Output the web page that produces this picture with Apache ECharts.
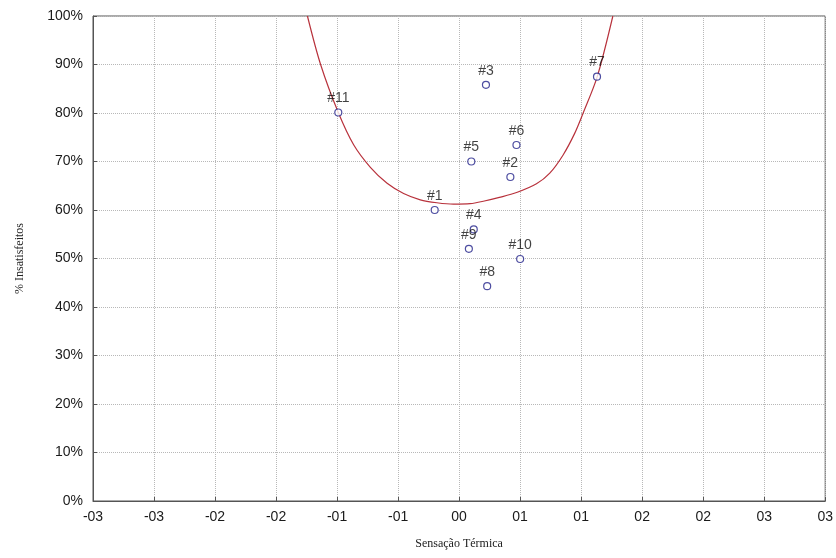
<!DOCTYPE html>
<html>
<head>
<meta charset="utf-8">
<script src="https://cdn.jsdelivr.net/npm/echarts@6/dist/echarts.min.js"></script>
<style>html,body{margin:0;padding:0;background:#fff;}#c{width:836px;height:558px;}</style>
</head>
<body>
<div id="c"></div>
<script>
// Data
var pointNames = ['#1','#2','#3','#4','#5','#6','#7','#8','#9','#10','#11'];
var pointX = [-0.20, 0.42, 0.22, 0.12, 0.10, 0.47, 1.13, 0.23, 0.08, 0.50, -0.99];
var pointY = [60.0, 66.8, 85.8, 56.0, 70.0, 73.4, 87.5, 44.3, 52.0, 49.9, 80.1];

// Fitted curve, points
var curveX = [-1.243, -1.135, -0.990, -0.863, -0.727, -0.590, -0.455, -0.318, -0.182, -0.047, 0.090, 0.198, 0.330, 0.471, 0.634, 0.743, 0.851, 0.947, 1.015, 1.132, 1.260];
var curveY = [100.0, 90.0, 80.1, 73.4, 68.8, 65.5, 63.4, 62.1, 61.5, 61.2, 61.3, 61.8, 62.6, 63.6, 65.4, 67.6, 71.3, 75.8, 79.9, 87.5, 100.0];

var xTickValues = [-3, -2.5, -2, -1.5, -1, -0.5, 0, 0.5, 1, 1.5, 2, 2.5, 3];
var xTickLabels = ['-03','-03','-02','-02','-01','-01','00','01','01','02','02','03','03'];
var yTickLabels = ['0%','10%','20%','30%','40%','50%','60%','70%','80%','90%','100%'];

var xTitle = 'Sensação Térmica';
var yTitle = '% Insatisfeitos';

var scatterData = pointNames.map(function(n, i){ return {name: n, value: [pointX[i], pointY[i]]}; });
var curveData = curveX.map(function(x, i){ return [x, curveY[i]]; });

var chart = echarts.init(document.getElementById('c'), null, {renderer: 'canvas'});
chart.setOption({
  animation: false,
  backgroundColor: '#ffffff',
  grid: {left: 93, right: 9, top: 16, bottom: 57, show: true, borderColor: '#555', borderWidth: 1, backgroundColor: 'transparent'},
  xAxis: {
    type: 'value', min: -3, max: 3, interval: 0.5,
    name: xTitle, nameLocation: 'middle', nameGap: 37,
    nameTextStyle: {fontFamily: 'Liberation Serif', fontSize: 12, color: '#222'},
    axisLine: {show: true, onZero: false, lineStyle: {color: '#555', width: 1}},
    axisTick: {show: true, inside: true, length: 4, lineStyle: {color: '#555'}},
    axisLabel: {
      fontFamily: 'Liberation Sans', fontSize: 14, color: '#1a1a1a', margin: 9,
      formatter: function(v){
        var idx = xTickValues.indexOf(Math.round(v*2)/2);
        return idx >= 0 ? xTickLabels[idx] : '';
      }
    },
    splitLine: {show: true, lineStyle: {color: '#b8b8b8', type: 'dotted', width: 1}}
  },
  yAxis: {
    type: 'value', min: 0, max: 100, interval: 10,
    name: yTitle, nameLocation: 'middle', nameGap: 67, nameRotate: 90,
    nameTextStyle: {fontFamily: 'Liberation Serif', fontSize: 12, color: '#222'},
    axisLine: {show: true, onZero: false, lineStyle: {color: '#555', width: 1}},
    axisTick: {show: true, inside: true, length: 4, lineStyle: {color: '#555'}},
    axisLabel: {
      fontFamily: 'Liberation Sans', fontSize: 14, color: '#1a1a1a', margin: 10,
      formatter: function(v){ return yTickLabels[Math.round(v/10)]; }
    },
    splitLine: {show: true, lineStyle: {color: '#b8b8b8', type: 'dotted', width: 1}}
  },
  series: [
    {
      type: 'line', data: curveData, smooth: 0.3, showSymbol: false, symbol: 'none',
      lineStyle: {color: '#b8323c', width: 1.2}, z: 2, silent: true
    },
    {
      type: 'scatter', data: scatterData, symbol: 'circle', symbolSize: 7,
      itemStyle: {color: '#ffffff', borderColor: '#22228a', borderWidth: 1.2},
      label: {show: true, position: 'top', distance: 3, formatter: '{b}',
              fontFamily: 'Liberation Sans', fontSize: 14, color: '#111'},
      z: 3
    }
  ]
});
</script>
</body>
</html>
